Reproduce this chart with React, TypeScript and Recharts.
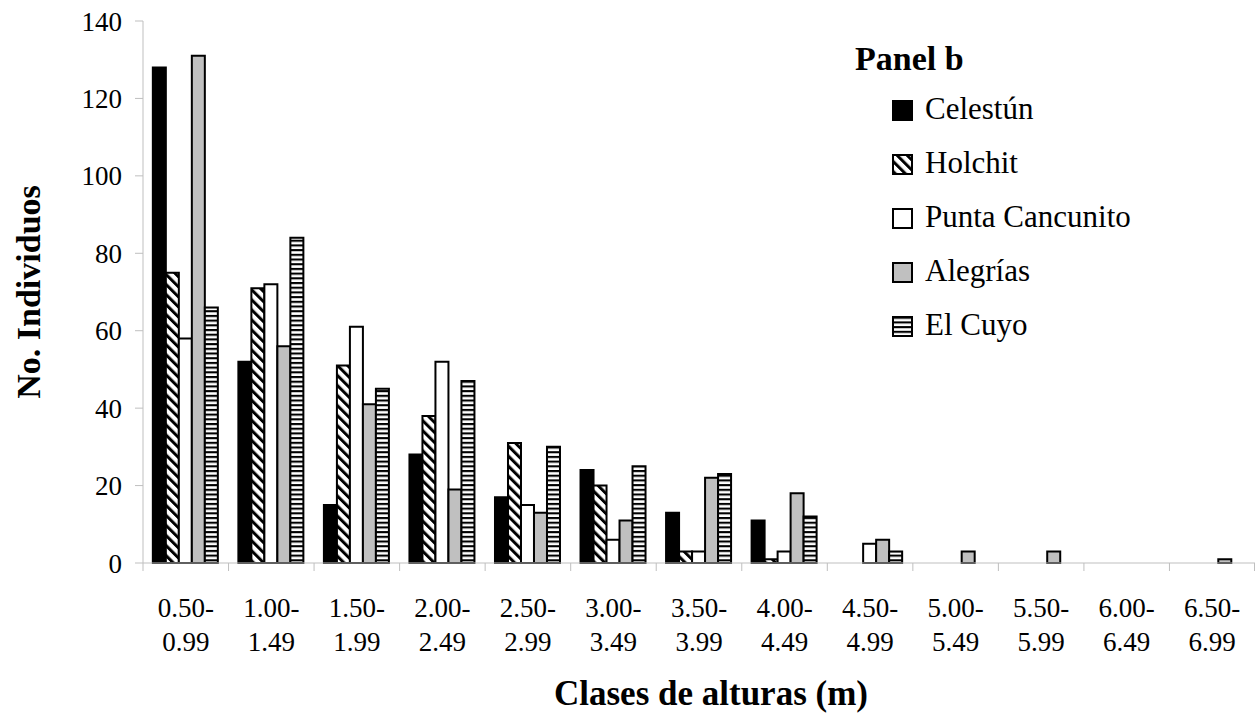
import React from 'react';
import { BarChart, Bar, XAxis, YAxis, Legend } from 'recharts';

const categories = [
  '0.50-0.99', '1.00-1.49', '1.50-1.99', '2.00-2.49', '2.50-2.99', '3.00-3.49', '3.50-3.99',
  '4.00-4.49', '4.50-4.99', '5.00-5.49', '5.50-5.99', '6.00-6.49', '6.50-6.99',
];
const celestun = [128, 52, 15, 28, 17, 24, 13, 11, 0, 0, 0, 0, 0];
const holchit = [75, 71, 51, 38, 31, 20, 3, 1, 0, 0, 0, 0, 0];
const puntaCancunito = [58, 72, 61, 52, 15, 6, 3, 3, 5, 0, 0, 0, 0];
const alegrias = [131, 56, 41, 19, 13, 11, 22, 18, 6, 3, 3, 0, 1];
const elCuyo = [66, 84, 45, 47, 30, 25, 23, 12, 3, 0, 0, 0, 0];
const yTicks = [0, 20, 40, 60, 80, 100, 120, 140];

const seriesNames = ['Celestún', 'Holchit', 'Punta Cancunito', 'Alegrías', 'El Cuyo'];
const seriesKeys = ['celestun', 'holchit', 'punta', 'alegrias', 'cuyo'];
const seriesFills = ['#000000', 'url(#diag)', '#ffffff', '#c0c0c0', 'url(#horiz)'];

const data = categories.map((c, i) => ({
  cat: c,
  celestun: celestun[i],
  holchit: holchit[i],
  punta: puntaCancunito[i],
  alegrias: alegrias[i],
  cuyo: elCuyo[i],
}));

const W = 1255;
const H = 719;
const Y_AXIS_W = 143;
const MARGIN = { top: 21, right: 0, bottom: 0, left: 0 };
const X_AXIS_H = 156;
const BAND = (W - MARGIN.left - MARGIN.right - Y_AXIS_W) / categories.length;
const FONT = '"Liberation Serif", "Times New Roman", serif';
const AXIS_GRAY = '#bfbfbf';

const XTick = (props: any) => {
  const { x, y, payload } = props;
  const idx = categories.indexOf(payload.value);
  const [a, b] = String(payload.value).split('-');
  const half = BAND / 2;
  return (
    <g>
      <line x1={x - half} x2={x - half} y1={y} y2={y + 8} stroke={AXIS_GRAY} strokeWidth={1} />
      {idx === categories.length - 1 && (
        <line x1={x + half - 0.5} x2={x + half - 0.5} y1={y} y2={y + 8} stroke={AXIS_GRAY} strokeWidth={1} />
      )}
      <text x={x} y={y + 54} textAnchor="middle" fontSize={27} fontFamily={FONT} fill="#000">
        {a + '-'}
      </text>
      <text x={x} y={y + 88} textAnchor="middle" fontSize={27} fontFamily={FONT} fill="#000">
        {b}
      </text>
    </g>
  );
};

const LegendContent = () => {
  const rows = [119, 173, 227, 281, 335].map((v) => v - 30);
  return (
    <svg width={400} height={330} style={{ display: 'block' }}>
      <text x={5} y={40} fontSize={34} fontWeight="bold" fontFamily={FONT} fill="#000">
        Panel b
      </text>
      {seriesNames.map((n, i) => (
        <g key={n}>
          <rect x={43} y={rows[i] - 18} width={19} height={19} fill={seriesFills[i]} stroke="#000" strokeWidth={2} />
          <text x={75} y={rows[i]} fontSize={31} fontFamily={FONT} fill="#000">
            {n}
          </text>
        </g>
      ))}
    </svg>
  );
};

export default function App() {
  return (
    <div style={{ position: 'fixed', left: 0, top: 0, width: W, height: H, background: '#fff' }}>
      <BarChart
        width={W}
        height={H}
        data={data}
        margin={MARGIN}
        barCategoryGap="11.5%"
        barGap={0}
      >
        <defs>
          <pattern id="diag" patternUnits="userSpaceOnUse" width={7.1} height={7.1} patternTransform="rotate(-45)">
            <rect x={0} y={0} width={7.1} height={7.1} fill="#fff" />
            <rect x={0} y={0} width={3} height={7.1} fill="#000" />
          </pattern>
          <pattern id="horiz" patternUnits="userSpaceOnUse" width={10} height={4.7}>
            <rect x={0} y={0} width={10} height={4.7} fill="#fff" />
            <rect x={0} y={0} width={10} height={2.1} fill="#000" />
          </pattern>
        </defs>
        <XAxis
          dataKey="cat"
          height={X_AXIS_H}
          interval={0}
          tickLine={false}
          tickSize={0}
          tickMargin={0}
          axisLine={{ stroke: AXIS_GRAY, strokeWidth: 1 }}
          tick={<XTick />}
          label={{
            content: (p: any) => {
              const vb = p.viewBox || {};
              return (
                <text
                  x={(vb.x || 0) + (vb.width || 0) / 2 + 12}
                  y={705}
                  textAnchor="middle"
                  fontSize={35}
                  fontWeight="bold"
                  fontFamily={FONT}
                  fill="#000"
                >
                  Clases de alturas (m)
                </text>
              );
            },
          }}
        />
        <YAxis
          width={Y_AXIS_W}
          domain={[0, 140]}
          ticks={yTicks}
          interval={0}
          tickSize={8}
          tickMargin={13}
          axisLine={{ stroke: AXIS_GRAY, strokeWidth: 1 }}
          tickLine={{ stroke: AXIS_GRAY, strokeWidth: 1 }}
          tick={{ fontSize: 27, fontFamily: FONT, fill: '#000' }}
          label={{
            content: () => (
              <text
                x={40}
                y={292}
                transform="rotate(-90 40 292)"
                textAnchor="middle"
                fontSize={34}
                fontWeight="bold"
                fontFamily={FONT}
                fill="#000"
              >
                No. Individuos
              </text>
            ),
          }}
        />
        <Legend
          layout="vertical"
          align="center"
          verticalAlign="middle"
          content={<LegendContent />}
          wrapperStyle={{ left: 850, top: 30, width: 400, height: 330 }}
        />
        {seriesKeys.map((k, i) => (
          <Bar
            key={k}
            dataKey={k}
            name={seriesNames[i]}
            fill={seriesFills[i]}
            stroke="#000"
            strokeWidth={2}
            isAnimationActive={false}
          />
        ))}
      </BarChart>
    </div>
  );
}
